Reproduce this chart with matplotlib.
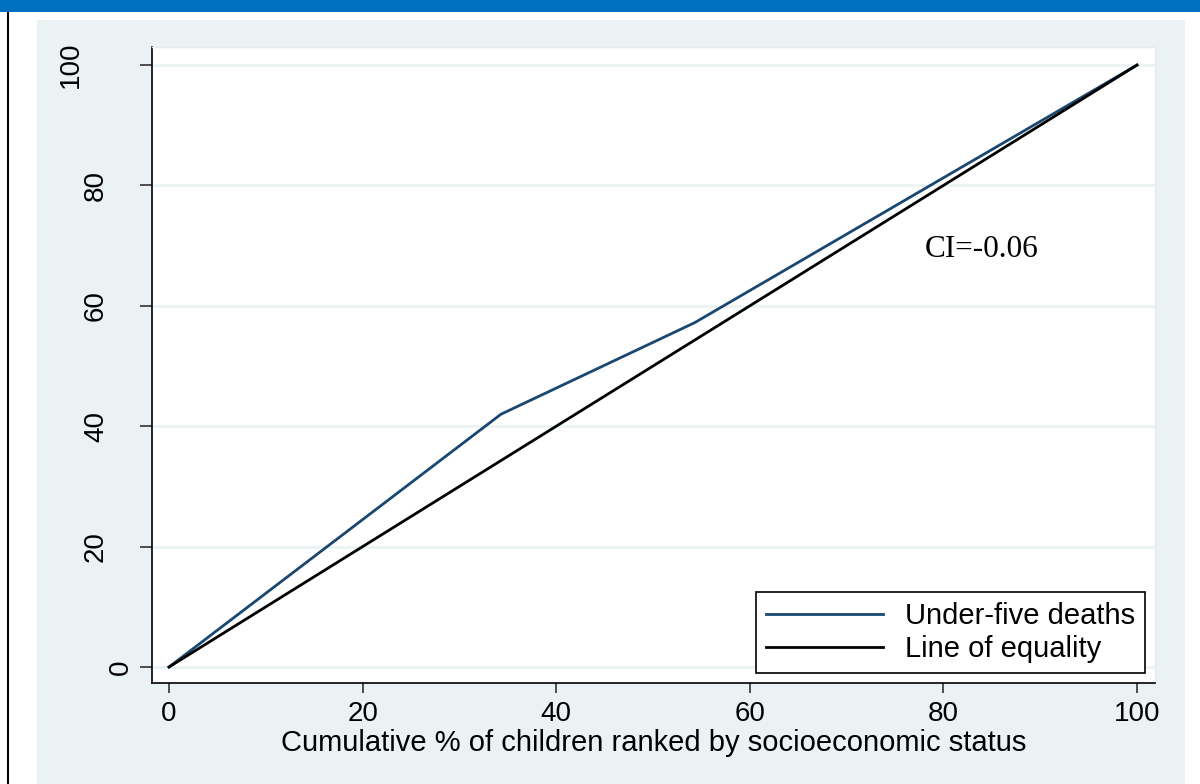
import matplotlib
matplotlib.use("Agg")
import matplotlib.pyplot as plt
from matplotlib.patches import Rectangle

# Concentration curve data (cumulative %)
x_cum = [0, 34.3, 54.3, 100]
deaths_cum = [0, 42.0, 57.2, 100]
equality_x = [0, 100]
equality_y = [0, 100]
x_ticks = [0, 20, 40, 60, 80, 100]
y_ticks = [0, 20, 40, 60, 80, 100]
ci_label = "CI=-0.06"

W, H = 1200, 784
fig = plt.figure(figsize=(W / 100, H / 100), dpi=100)
fig.patch.set_facecolor("white")

panel_col = "#EAF2F3"
# Header band, left rule and graph region background
fig.add_artist(Rectangle((0, 1 - 12 / H), 1, 12 / H, transform=fig.transFigure,
                         facecolor="#0070C0", edgecolor="none", zorder=0))
fig.add_artist(Rectangle((7 / W, 0), 2 / W, 1 - 12 / H, transform=fig.transFigure,
                         facecolor="black", edgecolor="none", zorder=0))
fig.add_artist(Rectangle((37 / W, 0), (1185 - 37) / W, 1 - 20 / H, transform=fig.transFigure,
                         facecolor=panel_col, edgecolor="none", zorder=0))

ax = fig.add_axes([152 / W, 1 - 683 / H, (1155 - 152) / W, (683 - 47) / H])
ax.set_facecolor("white")
ax.set_xlim(-1.76, 101.86)
ax.set_ylim(-2.66, 103.0)

font = "Liberation Sans"
for yv in y_ticks:
    ax.axhline(yv, color=panel_col, lw=1.8, zorder=1)

ax.plot(x_cum, deaths_cum, color="#1a476f", lw=2.0, label="Under-five deaths", zorder=3)
ax.plot(equality_x, equality_y, color="black", lw=2.0, label="Line of equality", zorder=3)

for side in ["top", "right"]:
    ax.spines[side].set_color("#E4ECEE")
    ax.spines[side].set_linewidth(1.0)
for side in ["left", "bottom"]:
    ax.spines[side].set_color("black")
    ax.spines[side].set_linewidth(1.2)

ax.set_xticks(x_ticks)
ax.set_yticks(y_ticks)
ax.tick_params(axis="x", length=7.2, width=1.2, color="#333333", pad=5.5,
               labelsize=20, labelfontfamily=font)
ax.tick_params(axis="y", length=8.6, width=1.2, color="#333333", pad=4.5,
               labelsize=20, labelfontfamily=font, labelrotation=90)
# Rotated y labels sit further out the more digits they have
for tick, val in zip(ax.yaxis.get_major_ticks(), y_ticks):
    n = len(str(val))
    tick.set_pad(4.5 + 17.8 * (n - 1))
for lab in ax.get_yticklabels():
    lab.set_va("center")

ax.set_xlabel("Cumulative % of children ranked by socioeconomic status",
              fontsize=21, fontfamily=font)
ax.xaxis.set_label_coords(0.5, -0.073)

ax.text(89.8, 69.4, ci_label, fontsize=22.5, fontfamily="Liberation Serif",
        ha="right", va="center", zorder=4)

leg = ax.legend(loc="lower right", bbox_to_anchor=(0.990, 0.0157),
                borderaxespad=0, fancybox=False, frameon=True,
                prop={"family": font, "size": 21}, handlelength=4.0,
                handletextpad=0.75, borderpad=0.35, labelspacing=0.15)
leg.get_frame().set_edgecolor("black")
leg.get_frame().set_linewidth(1.2)
leg.get_frame().set_facecolor("white")
leg.get_frame().set_alpha(1)

fig.savefig("out.png", dpi=100)
